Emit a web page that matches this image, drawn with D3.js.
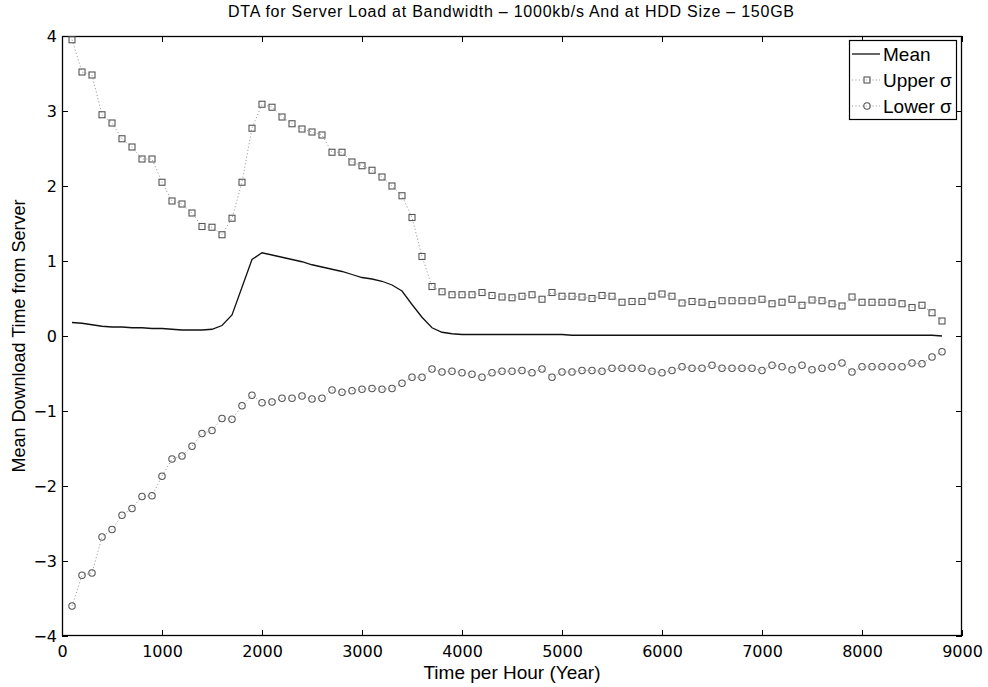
<!DOCTYPE html>
<html>
<head>
<meta charset="utf-8">
<script src="https://cdn.jsdelivr.net/npm/d3@7"></script>
<style>
  html, body { margin: 0; padding: 0; background: #fff; }
  svg { display: block; font-family: "Liberation Sans", Arial, Helvetica, sans-serif; }
</style>
</head>
<body>
<svg id="chart" width="988" height="687"></svg>
<script>
// ---- data ----
const hours = [100,200,300,400,500,600,700,800,900,1000,1100,1200,1300,1400,1500,1600,1700,1800,1900,2000,
  2100,2200,2300,2400,2500,2600,2700,2800,2900,3000,3100,3200,3300,3400,3500,3600,3700,3800,3900,4000,
  4100,4200,4300,4400,4500,4600,4700,4800,4900,5000,5100,5200,5300,5400,5500,5600,5700,5800,5900,6000,
  6100,6200,6300,6400,6500,6600,6700,6800,6900,7000,7100,7200,7300,7400,7500,7600,7700,7800,7900,8000,
  8100,8200,8300,8400,8500,8600,8700,8800];

const meanValues = [0.18,0.17,0.15,0.13,0.12,0.12,0.11,0.11,0.10,0.10,0.09,0.08,0.08,0.08,0.09,0.14,0.28,0.65,1.02,1.11,
  1.08,1.05,1.02,0.99,0.95,0.92,0.89,0.86,0.82,0.78,0.76,0.73,0.68,0.60,0.42,0.25,0.11,0.05,0.03,0.02,
  0.02,0.02,0.02,0.02,0.02,0.02,0.02,0.02,0.02,0.02,0.01,0.01,0.01,0.01,0.01,0.01,0.01,0.01,0.01,0.01,
  0.01,0.01,0.01,0.01,0.01,0.01,0.01,0.01,0.01,0.01,0.01,0.01,0.01,0.01,0.01,0.01,0.01,0.01,0.01,0.01,
  0.01,0.01,0.01,0.01,0.01,0.01,0.01,0.00];

const upperValues = [3.95,3.52,3.48,2.95,2.84,2.63,2.52,2.36,2.36,2.05,1.80,1.76,1.64,1.46,1.45,1.35,1.57,2.05,2.77,3.09,
  3.05,2.92,2.83,2.76,2.72,2.68,2.45,2.45,2.32,2.27,2.21,2.12,2.00,1.87,1.58,1.06,0.66,0.59,0.55,0.55,
  0.55,0.58,0.54,0.52,0.51,0.53,0.55,0.49,0.58,0.53,0.53,0.52,0.50,0.54,0.53,0.45,0.46,0.46,0.53,0.56,
  0.53,0.44,0.46,0.45,0.42,0.47,0.47,0.47,0.47,0.49,0.43,0.45,0.49,0.41,0.48,0.47,0.43,0.40,0.52,0.45,
  0.45,0.45,0.45,0.43,0.38,0.41,0.31,0.20];

const lowerValues = [-3.60,-3.19,-3.16,-2.68,-2.58,-2.39,-2.30,-2.14,-2.13,-1.87,-1.64,-1.60,-1.47,-1.30,-1.26,-1.10,-1.11,-0.93,-0.79,-0.89,
  -0.88,-0.83,-0.83,-0.80,-0.84,-0.83,-0.72,-0.75,-0.73,-0.71,-0.70,-0.71,-0.70,-0.63,-0.55,-0.55,-0.44,-0.48,-0.47,-0.49,
  -0.51,-0.55,-0.49,-0.47,-0.47,-0.46,-0.49,-0.44,-0.55,-0.48,-0.48,-0.46,-0.46,-0.47,-0.43,-0.43,-0.43,-0.43,-0.47,-0.49,
  -0.46,-0.41,-0.43,-0.43,-0.39,-0.43,-0.43,-0.43,-0.43,-0.46,-0.39,-0.41,-0.45,-0.39,-0.45,-0.43,-0.41,-0.36,-0.48,-0.41,
  -0.41,-0.41,-0.41,-0.41,-0.36,-0.37,-0.28,-0.21];

const xTicks = [0,1000,2000,3000,4000,5000,6000,7000,8000,9000];
const yTicks = [-4,-3,-2,-1,0,1,2,3,4];
const seriesNames = ["Mean", "Upper \u03c3", "Lower \u03c3"];
const titleText = "DTA for Server Load at Bandwidth \u2013 1000kb/s And at HDD Size \u2013 150GB";
const xLabel = "Time per Hour (Year)";
const yLabel = "Mean Download Time from Server";

// ---- layout ----
const svg = d3.select("#chart");
const L = 62, R = 962, T = 36, B = 636;
const x = d3.scaleLinear().domain([0, 9000]).range([L, R]);
const y = d3.scaleLinear().domain([-4, 4]).range([B, T]);

const markColor = "#555";
const dotColor = "#a0a0a0";
const tickFont = "DejaVu Sans, Verdana, sans-serif";

// axes (ticks inside, MATLAB style)
const tickLen = 6;
const axB = svg.append("g").attr("transform", `translate(0,${B})`)
  .call(d3.axisBottom(x).tickValues(xTicks).tickSizeInner(-tickLen).tickSizeOuter(0).tickPadding(10)
    .tickFormat(d3.format("d")));
const axT = svg.append("g").attr("transform", `translate(0,${T})`)
  .call(d3.axisTop(x).tickValues(xTicks).tickSizeInner(-tickLen).tickSizeOuter(0).tickFormat(""));
const axL = svg.append("g").attr("transform", `translate(${L},0)`)
  .call(d3.axisLeft(y).tickValues(yTicks).tickSizeInner(-tickLen).tickSizeOuter(0).tickPadding(5)
    .tickFormat(d => d < 0 ? "\u2212" + Math.abs(d) : String(d)));
const axR = svg.append("g").attr("transform", `translate(${R},0)`)
  .call(d3.axisRight(y).tickValues(yTicks).tickSizeInner(-tickLen).tickSizeOuter(0).tickFormat(""));
[axB, axT, axL, axR].forEach(g => {
  g.select(".domain").remove();
  g.selectAll("line").attr("stroke", "#000").attr("stroke-width", 1);
  g.selectAll("text").attr("font-family", tickFont).attr("font-size", 16).attr("fill", "#000");
});

// box
svg.append("rect").attr("x", L + 0.5).attr("y", T + 0.5).attr("width", R - L - 1).attr("height", B - T - 1)
  .attr("fill", "none").attr("stroke", "#000").attr("stroke-width", 1.3);

// data lines
const pts = vals => hours.map((h, i) => [h, vals[i]]);
const line = d3.line().x(d => x(d[0])).y(d => y(d[1]));

const plot = svg.append("g");
plot.append("path").datum(pts(upperValues)).attr("d", line)
  .attr("fill", "none").attr("stroke", dotColor).attr("stroke-width", 1).attr("stroke-dasharray", "1.2,2.2");
plot.append("path").datum(pts(lowerValues)).attr("d", line)
  .attr("fill", "none").attr("stroke", dotColor).attr("stroke-width", 1).attr("stroke-dasharray", "1.2,2.2");
plot.append("path").datum(pts(meanValues)).attr("d", line)
  .attr("fill", "none").attr("stroke", "#111").attr("stroke-width", 1.3);

// markers
const ms = 6;
plot.selectAll("rect.up").data(pts(upperValues)).join("rect").attr("class", "up")
  .attr("x", d => x(d[0]) - ms / 2).attr("y", d => y(d[1]) - ms / 2)
  .attr("width", ms).attr("height", ms)
  .attr("fill", "none").attr("stroke", markColor).attr("stroke-width", 1.1);
plot.selectAll("circle.lo").data(pts(lowerValues)).join("circle").attr("class", "lo")
  .attr("cx", d => x(d[0])).attr("cy", d => y(d[1])).attr("r", 3.2)
  .attr("fill", "none").attr("stroke", markColor).attr("stroke-width", 1.1);

// title & labels
svg.append("text").attr("x", 511).attr("y", 17).attr("text-anchor", "middle")
  .attr("font-size", 16).attr("textLength", 566).attr("lengthAdjust", "spacing")
  .attr("fill", "#000").text(titleText);
svg.append("text").attr("x", (L + R) / 2).attr("y", 679).attr("text-anchor", "middle")
  .attr("font-size", 19).attr("fill", "#000").text(xLabel);
svg.append("text").attr("transform", `translate(25,${(T + B) / 2}) rotate(-90)`).attr("text-anchor", "middle")
  .attr("font-size", 18).attr("fill", "#000").text(yLabel);

// legend
const lg = svg.append("g");
const lgX = 849, lgY = 40, lgW = 107, lgH = 79;
lg.append("rect").attr("x", lgX + 0.5).attr("y", lgY + 0.5).attr("width", lgW).attr("height", lgH)
  .attr("fill", "#fff").attr("stroke", "#000").attr("stroke-width", 1.2);
const rowY = [54, 80, 106];
seriesNames.forEach((name, i) => {
  const yy = rowY[i];
  const seg = lg.append("line").attr("x1", 852).attr("x2", 880).attr("y1", yy).attr("y2", yy);
  if (i === 0) seg.attr("stroke", "#111").attr("stroke-width", 1.3);
  else seg.attr("stroke", dotColor).attr("stroke-width", 1).attr("stroke-dasharray", "1.2,2.2");
  if (i === 1) lg.append("rect").attr("x", 867 - ms / 2).attr("y", yy - ms / 2).attr("width", ms).attr("height", ms)
    .attr("fill", "none").attr("stroke", markColor).attr("stroke-width", 1.1);
  if (i === 2) lg.append("circle").attr("cx", 867).attr("cy", yy).attr("r", 3.2)
    .attr("fill", "none").attr("stroke", markColor).attr("stroke-width", 1.1);
  lg.append("text").attr("x", 883).attr("y", yy + 7).attr("font-size", 19).attr("fill", "#000").text(name);
});
</script>
</body>
</html>
